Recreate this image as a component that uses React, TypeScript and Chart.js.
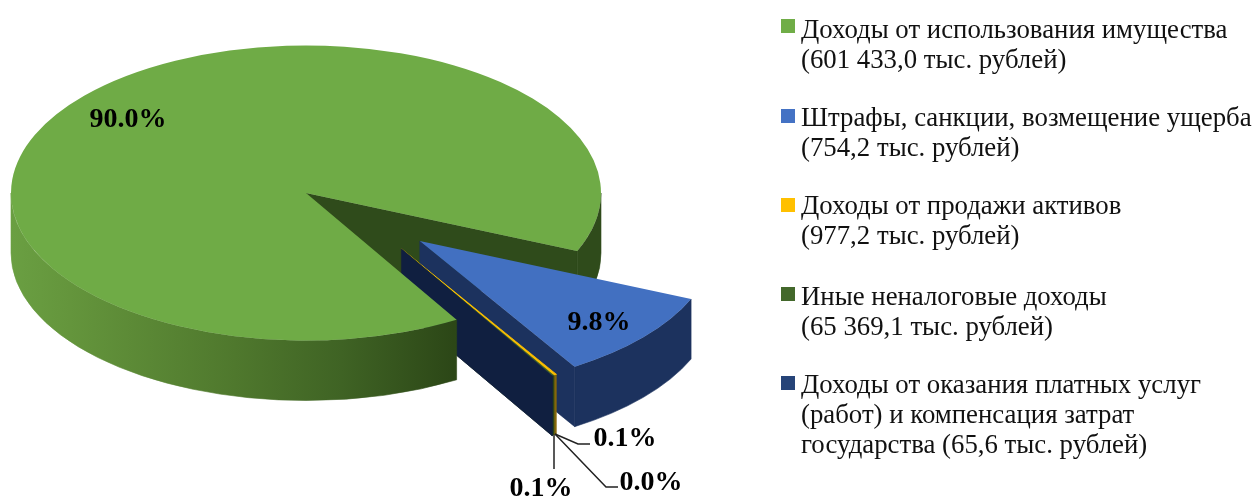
import { useEffect, useRef } from "react";
import { Chart, registerables } from "chart.js";

Chart.register(...registerables);

// Slices, in drawing order round the pie
const sliceNames = [
  "Доходы от использования имущества",
  "Иные неналоговые доходы",
  "Доходы от продажи активов",
  "Штрафы, санкции, возмещение ущерба",
  "Доходы от оказания платных услуг (работ) и компенсация затрат государства",
];
const sliceValues = [601433.0, 65369.1, 977.2, 754.2, 65.6];
const sliceColors = ["#6fab46", "#4270c1", "#ffc000", "#43682b", "#264478"];
const sliceBorders = [0, 0, 1.1, 0, 0];
const wallColors = ["#2f4b1b", "#1c325e", "#86680c", "#2c4419", "#101f40"];

// Legend, as printed
const legendLines = [
  ["Доходы от использования имущества", "(601 433,0 тыс. рублей)"],
  ["Штрафы, санкции, возмещение ущерба", "(754,2 тыс. рублей)"],
  ["Доходы от продажи активов", "(977,2 тыс. рублей)"],
  ["Иные неналоговые доходы", "(65 369,1 тыс. рублей)"],
  ["Доходы от оказания платных услуг", "(работ) и компенсация затрат", "государства (65,6 тыс. рублей)"],
];
const legendColors = ["#70ad47", "#4472c4", "#ffc000", "#43682b", "#264478"];
const legendBoxTops = [19, 109, 198, 287, 376];
const legendBaselines = [38, 126, 214, 305, 393];

// Layout of the pseudo-3D
const SQUASH = 0.5;
const DEPTH = 60;
const explodeDist = [0, 149, 147, 147, 147];
const explodeAngle = [0, 40.2, 49.5, 49.5, 49.5];
const labelAnchors = [
  [128, 119.5],
  [599, 322.5],
  [625, 438.5],
  [541, 489],
  [651, 482.5],
];
const leaderLines = [
  null,
  null,
  [[555, 434], [578, 444], [590, 444]],
  [[554, 435], [554, 469]],
  [[555, 434], [606, 487], [618, 487]],
];
const leaderColors = ["", "", "#222222", "#595959", "#222222"];
const leaderWidths = [0, 0, 1.5, 2, 1.5];

const rad = (d: number) => (d * Math.PI) / 180;

const pie3d = {
  id: "pie3d",
  beforeDatasetsDraw(chart: any) {
    const ctx = chart.ctx as CanvasRenderingContext2D;
    const arcs = chart.getDatasetMeta(0).data as any[];

    const place = (i: number) => {
      const a = arcs[i];
      const d = explodeDist[i];
      const t = rad(explodeAngle[i]);
      return { x: a.x + d * Math.cos(t), y: a.y + d * Math.sin(t) * SQUASH, r: a.outerRadius };
    };
    const paint = (fill: any) => {
      ctx.fillStyle = fill;
      ctx.strokeStyle = fill;
      ctx.lineWidth = 0.6;
      ctx.fill();
      ctx.stroke();
    };
    const rim = (i: number, a0: number, a1: number, fill: any) => {
      const p = place(i);
      ctx.beginPath();
      ctx.ellipse(p.x, p.y, p.r, p.r * SQUASH, 0, a0, a1);
      ctx.ellipse(p.x, p.y + DEPTH, p.r, p.r * SQUASH, 0, a1, a0, true);
      ctx.closePath();
      paint(fill);
    };
    const wall = (i: number, angle: number) => {
      const p = place(i);
      const ex = p.x + p.r * Math.cos(angle);
      const ey = p.y + p.r * SQUASH * Math.sin(angle);
      ctx.beginPath();
      ctx.moveTo(p.x, p.y);
      ctx.lineTo(ex, ey);
      ctx.lineTo(ex, ey + DEPTH);
      ctx.lineTo(p.x, p.y + DEPTH);
      ctx.closePath();
      paint(wallColors[i]);
    };
    const top = (i: number) => {
      const a = arcs[i];
      const p = place(i);
      ctx.save();
      ctx.translate(p.x, p.y);
      ctx.scale(1, SQUASH);
      ctx.translate(-a.x, -a.y);
      a.draw(ctx);
      ctx.restore();
    };

    const main = arcs[0];
    // back part of the big slice: wall of the gap and right rim
    wall(0, main.endAngle);
    rim(0, 2 * Math.PI, main.endAngle, wallColors[0]);

    // exploded slices
    for (let i = 1; i < arcs.length; i++) {
      const a = arcs[i];
      rim(i, a.startAngle, a.endAngle, wallColors[i]);
      wall(i, a.endAngle);
      top(i);
    }

    // front part of the big slice
    const g = ctx.createLinearGradient(main.x - main.outerRadius, 0, main.x + main.outerRadius, 0);
    g.addColorStop(0, "#6a9f42");
    g.addColorStop(0.1, "#64953c");
    g.addColorStop(0.38, "#4f782d");
    g.addColorStop(0.56, "#3f6324");
    g.addColorStop(0.75, "#2c4717");
    g.addColorStop(1, "#2f4b1b");
    rim(0, main.startAngle, Math.PI, g);
    top(0);
    return false;
  },
  afterDraw(chart: any) {
    const ctx = chart.ctx as CanvasRenderingContext2D;
    const total = sliceValues.reduce((s, v) => s + v, 0);

    ctx.save();
    // leader lines
    leaderLines.forEach((line, i) => {
      if (!line) return;
      ctx.strokeStyle = leaderColors[i];
      ctx.lineWidth = leaderWidths[i];
      ctx.beginPath();
      line.forEach(([x, y], k) => (k ? ctx.lineTo(x, y) : ctx.moveTo(x, y)));
      ctx.stroke();
    });

    // percentage labels
    ctx.fillStyle = "#000";
    ctx.font = "bold 28px 'Liberation Serif'";
    ctx.textAlign = "center";
    ctx.textBaseline = "middle";
    sliceValues.forEach((v, i) => {
      ctx.fillText(((v / total) * 100).toFixed(1) + "%", labelAnchors[i][0], labelAnchors[i][1]);
    });

    // legend
    ctx.textAlign = "left";
    ctx.textBaseline = "alphabetic";
    ctx.font = "26.8px 'Liberation Serif'";
    legendLines.forEach((lines, i) => {
      ctx.fillStyle = legendColors[i];
      ctx.fillRect(781, legendBoxTops[i], 14, 14);
      ctx.fillStyle = "#111";
      lines.forEach((t, k) => ctx.fillText(t, 801, legendBaselines[i] + k * 30));
    });
    ctx.restore();
  },
};

export default function App() {
  const ref = useRef<HTMLCanvasElement>(null);
  useEffect(() => {
    const chart = new Chart(ref.current!, {
      type: "pie",
      data: {
        labels: sliceNames,
        datasets: [{ data: sliceValues, backgroundColor: sliceColors, borderColor: sliceColors, borderWidth: sliceBorders }],
      },
      options: {
        responsive: false,
        animation: false,
        events: [],
        rotation: 149.3,
        radius: 295,
        layout: { padding: { left: 0, top: 0, right: 643, bottom: 112 } },
        plugins: { legend: { display: false }, tooltip: { enabled: false } },
      } as any,
      plugins: [pie3d as any],
    });
    return () => chart.destroy();
  }, []);
  return (
    <div style={{ position: "absolute", left: 0, top: 0, width: 1255, height: 498, background: "#fff" }}>
      <canvas ref={ref} width={1255} height={498} style={{ display: "block" }} />
    </div>
  );
}
